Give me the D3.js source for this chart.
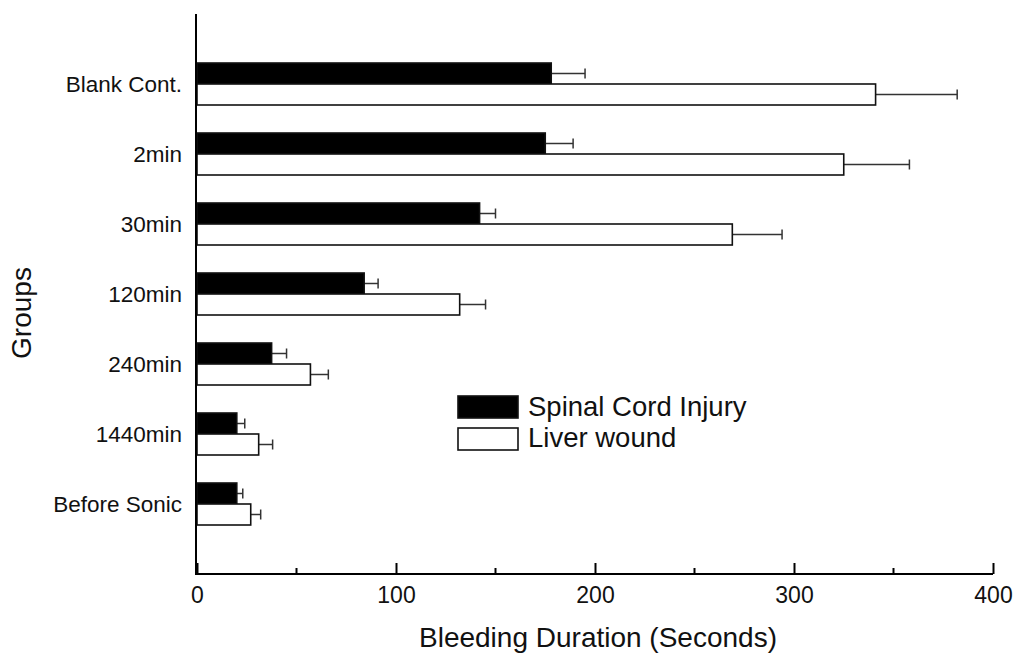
<!DOCTYPE html>
<html>
<head>
<meta charset="utf-8">
<script src="https://cdn.jsdelivr.net/npm/d3@7"></script>
<style>
  body { margin: 0; background: #fff; }
  svg { font-family: "Liberation Sans", Arial, sans-serif; }
</style>
</head>
<body>
<div class="forSvg"></div>
<script>
// -DATA-
const groups = ["Blank Cont.", "2min", "30min", "120min", "240min", "1440min", "Before Sonic"];
const spinalMean = [178, 175, 142, 84, 37.5, 20, 20];
const spinalErr = [17, 14, 8, 7, 7.5, 4, 3];
const liverMean = [341, 325, 269, 132, 57, 31, 27];
const liverErr = [41, 33, 25, 13, 9, 7, 5];
const xTicks = [0, 100, 200, 300, 400];
const xMinorTicks = [50, 150, 250, 350];
const seriesNames = ["Spinal Cord Injury", "Liver wound"];

// -SIZES-
const svg_w = 1024;
const svg_h = 664;
const padLeft = 196;
const padRight = 993;
const padTop = 14;
const padBottom = 574;
const barH = 21;

const svg = d3.select(".forSvg")
  .append("svg")
  .attr("width", svg_w)
  .attr("height", svg_h);

// scales
const xScale = d3.scaleLinear().domain([0, 400]).range([padLeft + 1, padRight]);
const yScale = d3.scalePoint().domain(groups).range([padTop, padBottom]).padding(1);

// build rows for both series
const rows = [];
groups.forEach((g, i) => {
  rows.push({ g: g, v: spinalMean[i], e: spinalErr[i], s: 0 });
  rows.push({ g: g, v: liverMean[i], e: liverErr[i], s: 1 });
});
const rowY = d => d.s === 0 ? yScale(d.g) - barH : yScale(d.g);

// error bars (behind bars)
const err = svg.append("g").attr("stroke", "#333").attr("stroke-width", 1.5);
err.selectAll("line.eb")
  .data(rows)
  .enter()
  .append("line")
  .attr("class", "eb")
  .attr("x1", d => xScale(d.v))
  .attr("x2", d => xScale(d.v + d.e))
  .attr("y1", d => rowY(d) + barH / 2)
  .attr("y2", d => rowY(d) + barH / 2);
err.selectAll("line.cap")
  .data(rows)
  .enter()
  .append("line")
  .attr("class", "cap")
  .attr("x1", d => xScale(d.v + d.e))
  .attr("x2", d => xScale(d.v + d.e))
  .attr("y1", d => rowY(d) + barH / 2 - 5)
  .attr("y2", d => rowY(d) + barH / 2 + 5);

// bars
svg.selectAll("rect.bar")
  .data(rows)
  .enter()
  .append("rect")
  .attr("class", "bar")
  .attr("x", xScale(0))
  .attr("y", d => rowY(d))
  .attr("width", d => xScale(d.v) - xScale(0))
  .attr("height", barH)
  .attr("fill", d => d.s === 0 ? "#000" : "#fff")
  .attr("stroke", "#111")
  .attr("stroke-width", 1.6);

// -AXIS-
// x axis: ticks pointing up
const xAxis = d3.axisBottom(xScale).tickValues(xTicks).tickSize(-11).tickPadding(13).tickSizeOuter(0);
const gx = svg.append("g")
  .attr("transform", "translate(0," + padBottom + ")")
  .call(xAxis);
gx.select(".domain").attr("stroke", "#000").attr("stroke-width", 2)
  .attr("d", "M" + padLeft + ",0H" + padRight);
gx.selectAll(".tick line").attr("stroke-width", 2);
gx.selectAll(".tick text").attr("font-size", 23).attr("fill", "#111")
  .attr("font-family", "Liberation Sans, Arial, sans-serif");
gx.selectAll(".minor")
  .data(xMinorTicks)
  .enter()
  .append("line")
  .attr("class", "minor")
  .attr("x1", d => xScale(d))
  .attr("x2", d => xScale(d))
  .attr("y1", 0)
  .attr("y2", -6)
  .attr("stroke", "#000")
  .attr("stroke-width", 2);

// y axis
const yAxis = d3.axisLeft(yScale).tickSize(0).tickPadding(14);
const gy = svg.append("g")
  .attr("transform", "translate(" + padLeft + ",0)")
  .call(yAxis);
gy.select(".domain").attr("stroke", "#000").attr("stroke-width", 2)
  .attr("d", "M0," + padTop + "V" + (padBottom + 1));
gy.selectAll(".tick text").attr("font-size", 22.5).attr("fill", "#111")
  .attr("font-family", "Liberation Sans, Arial, sans-serif");

// -TITLES-
svg.append("text")
  .attr("x", 598)
  .attr("y", 647)
  .attr("text-anchor", "middle")
  .attr("font-size", 28)
  .attr("fill", "#111")
  .text("Bleeding Duration (Seconds)");

svg.append("text")
  .attr("transform", "translate(31,313) rotate(-90)")
  .attr("text-anchor", "middle")
  .attr("font-size", 28)
  .attr("fill", "#111")
  .text("Groups");

// -LEGEND-
const legend = svg.append("g").attr("transform", "translate(458,396)");
legend.selectAll("rect")
  .data(seriesNames)
  .enter()
  .append("rect")
  .attr("x", 0)
  .attr("y", (d, i) => i * 32)
  .attr("width", 60)
  .attr("height", 22)
  .attr("fill", (d, i) => i === 0 ? "#000" : "#fff")
  .attr("stroke", "#111")
  .attr("stroke-width", 1.6);
legend.selectAll("text")
  .data(seriesNames)
  .enter()
  .append("text")
  .attr("x", 70)
  .attr("y", (d, i) => i * 31 + 20)
  .attr("font-size", 27.5)
  .attr("fill", "#111")
  .text(d => d);
</script>
</body>
</html>
